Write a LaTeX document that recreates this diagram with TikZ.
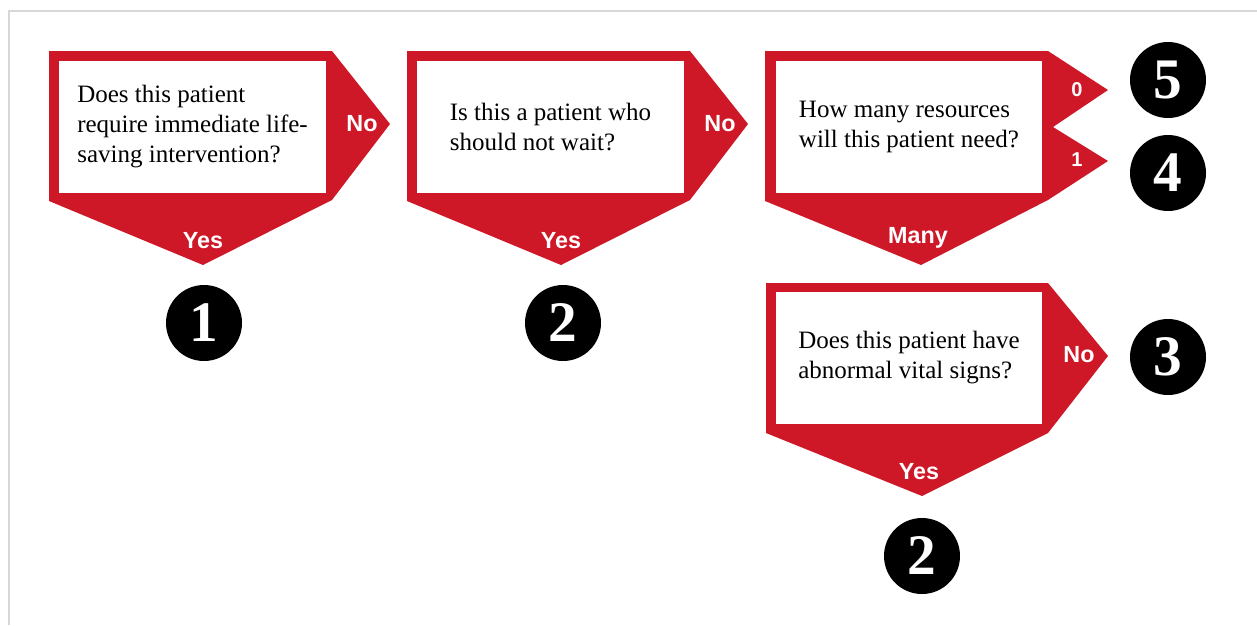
\documentclass[tikz,border=0pt]{standalone}
\usepackage{fontspec}
\setmainfont{Liberation Serif}
\newfontfamily\labelfont{Liberation Sans}
\usepackage{xcolor}
\usetikzlibrary{positioning}
\definecolor{esired}{RGB}{206,24,40}
\definecolor{framegray}{RGB}{215,215,215}

\begin{document}
\begin{tikzpicture}[x=0.75pt,y=-0.75pt,
    arrowshape/.style={fill=esired, draw=none},
    qbox/.style={fill=white, minimum width=200pt, minimum height=99pt, align=left,
        font=\fontsize{18.75}{22.5}\selectfont},
    answer/.style={text=white, font=\labelfont\bfseries\fontsize{17.5}{17.5}\selectfont},
    small answer/.style={answer, font=\labelfont\bfseries\fontsize{15}{15}\selectfont},
    level/.style={circle, fill=black, minimum size=57pt, inner sep=0pt, text=white,
        font=\bfseries\fontsize{43}{43}\selectfont}]
    \useasboundingbox[fill=white] (0,0) rectangle (1257,625);
    \draw[framegray, line width=1.5pt] (9,625) -- (9,11) -- (1257,11);

    % red decision shapes
    \fill[arrowshape] (49,51) -- (332,51) -- (390,124) -- (332,200) -- (203,265) -- (49,201) -- cycle;
    \fill[arrowshape] (407,51) -- (690,51) -- (748,124) -- (690,200) -- (561,265) -- (407,201) -- cycle;
    \fill[arrowshape] (765,51) -- (1048,51) -- (1108,90) -- (1053,127) -- (1108,161) -- (1048,200)
        -- (921,265) -- (765,201) -- cycle;
    \fill[arrowshape] (766,283) -- (1048,283) -- (1108,356) -- (1048,433) -- (922,496) -- (766,433) -- cycle;

    \node[qbox] (qa) at (192.5,127) {Does this patient\\require immediate life-\\saving intervention?};
    \node[qbox] (qb) at (550.5,127) {Is this a patient who\\should not wait?};
    \node[qbox] (qc) at (909,127) {How many resources\\will this patient need?};
    \node[qbox] (qd) at (909,358) {Does this patient have\\abnormal vital signs?};

    \node[answer] (qa-no) at (362,124) {No};
    \node[answer] (qa-yes) at (203,241) {Yes};
    \node[answer] (qb-no) at (720,124) {No};
    \node[answer] (qb-yes) at (561,241) {Yes};
    \node[small answer] (qc-0) at (1077,90) {0};
    \node[small answer] (qc-1) at (1077,160) {1};
    \node[answer] (qc-many) at (918,238) {Many};
    \node[answer] (qd-no) at (1079,355) {No};
    \node[answer] (qd-yes) at (919,472) {Yes};

    \node[level] (esi1) at (204,323) {1};
    \node[level] (esi2a) at (563,323) {2};
    \node[level] (esi5) at (1168,80) {5};
    \node[level] (esi4) at (1168,173) {4};
    \node[level] (esi3) at (1168,357) {3};
    \node[level] (esi2b) at (922,556) {2};
\end{tikzpicture}
\end{document}
